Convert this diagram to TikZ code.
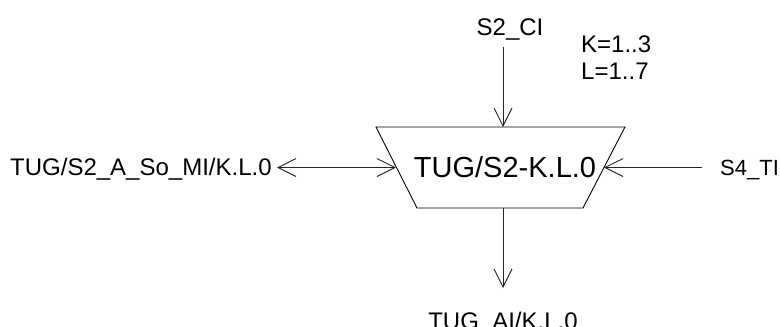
\documentclass[tikz,border=0pt]{standalone}
\usepackage{fontspec}
\setmainfont{Liberation Sans}
\usetikzlibrary{arrows.meta}
\begin{document}
\begin{tikzpicture}[x=1pt,y=-1pt,
  lbl/.style={inner sep=0pt,font=\fontsize{24}{28}\selectfont},
  big/.style={inner sep=0pt,font=\fontsize{29}{34}\selectfont},
  conn/.style={line width=0.9pt,draw=black!85,-{Straight Barb[length=18pt,width=18pt,line width=0.9pt]}},
  box/.style={line width=0.9pt,draw=black}]
\useasboundingbox (0,0) rectangle (780,327);
% trapezoid block
\coordinate (tl) at (376,127);
\coordinate (tr) at (625,127);
\coordinate (br) at (583,208);
\coordinate (bl) at (417,208);
\draw[box] (tl) -- (tr) -- (br) -- (bl) -- cycle;
\coordinate (ltop) at (503,127);
\coordinate (lbot) at (503,208);
\node[big,anchor=base] (main) at (505,177) {TUG/S2-K.L.0};
\coordinate (lm) at (396,167.5);
\coordinate (rm) at (604,167.5);
% labels
\node[lbl,anchor=base] (ci) at (510,35) {S2\_CI};
\node[lbl,anchor=base west] (k) at (581,52) {K=1..3};
\node[lbl,anchor=base west] (l) at (581,79) {L=1..7};
\node[lbl,anchor=base west] (mi) at (10,175) {TUG/S2\_A\_So\_MI/K.L.0};
\node[lbl,anchor=base west,font=\fontsize{22}{26}\selectfont] (ti) at (720,175.5) {S4\_TI};
\node[lbl,anchor=base] (ai) at (503,329) {TUG\_AI/K.L.0};
% connector end points
\coordinate (cis) at (503,47);
\coordinate (mie) at (277,167.5);
\coordinate (tie) at (702,167.5);
\coordinate (aie) at (503,288);
% connectors
\draw[conn] (cis) -- (ltop);
\draw[conn] (lbot) -- (aie);
\draw[conn,{Straight Barb[length=18pt,width=18pt,line width=0.9pt]}-{Straight Barb[length=18pt,width=18pt,line width=0.9pt]}] (mie) -- (lm);
\draw[conn] (tie) -- (rm);
\end{tikzpicture}
\end{document}
